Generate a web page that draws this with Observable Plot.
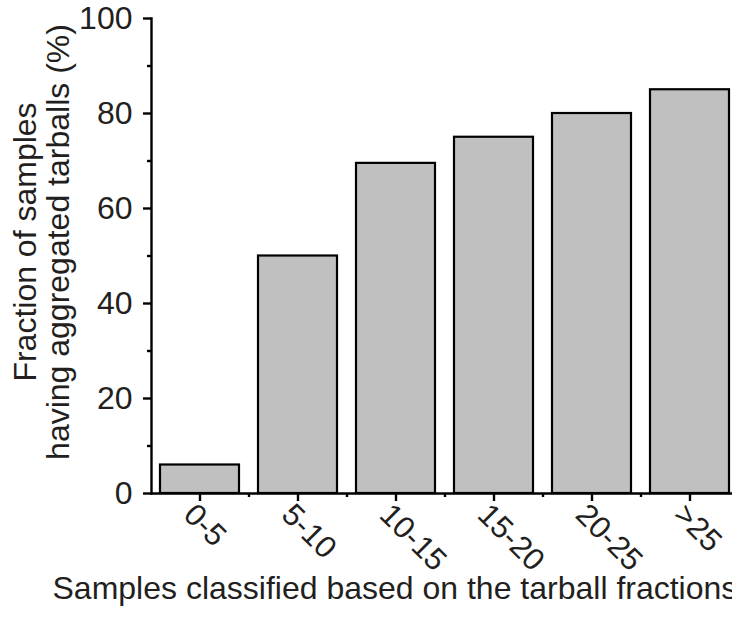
<!DOCTYPE html>
<html><head>
<meta charset="utf-8">
<script src="https://cdn.jsdelivr.net/npm/d3@7"></script>
<script src="https://cdn.jsdelivr.net/npm/@observablehq/plot@0.6"></script>
<style>html,body{margin:0;padding:0;background:#fff;overflow:hidden}</style>
</head><body><div id="chart"></div>
<script>
const categories = ["0-5", "5-10", "10-15", "15-20", "20-25", ">25"];
const values = [6, 50, 69.5, 75, 80, 85];
const yTicks = [0, 20, 40, 60, 80, 100];
const yMinorTicks = [10, 30, 50, 70, 90];
const yLabel = "Fraction of samples\nhaving aggregated tarballs (%)";
const xLabel = "Samples classified based on the tarball fractions";

const data = categories.map((c, i) => ({cat: c, value: values[i]}));
const x0 = 151, x1 = 739;
const step = (x1 - x0) / categories.length;
const ink = "#231f20";

const plot = Plot.plot({
  width: 732, height: 621,
  marginLeft: 151, marginTop: 18, marginBottom: 128, marginRight: 0,
  style: {fontFamily: "'Liberation Sans', Arial, sans-serif", color: ink, background: "#fff", overflow: "visible"},
  x: {type: "band", domain: categories, range: [x0, x1], paddingInner: 0.19, paddingOuter: 0.095, label: null},
  y: {domain: [0, 100], label: null},
  marks: [
    Plot.barY(data, {x: "cat", y: "value", fill: "#c0c0c0", stroke: "#000", strokeWidth: 2.2}),
    Plot.ruleY([0], {stroke: "#000", strokeWidth: 2.4}),
    Plot.frame({anchor: "left", stroke: "#000", strokeWidth: 2.4}),
    Plot.axisY({ticks: yTicks, tickSize: 8, tickPadding: 11, fontSize: 32, strokeWidth: 2.4, stroke: "#000", fill: ink}),
    Plot.axisY({ticks: yMinorTicks, tickSize: 4, text: null, strokeWidth: 2.4, stroke: "#000"}),
    Plot.axisX({ticks: categories, tickSize: 8, text: null, strokeWidth: 2.4, stroke: "#000"}),
    Plot.axisX({ticks: categories, tickSize: 0, tickPadding: 16, tickRotate: 45, dx: -11, fontSize: 31, fill: ink}),
    Plot.axisX({ticks: categories.slice(1), tickSize: 4, text: null, dx: -step / 2, strokeWidth: 2.4, stroke: "#000"}),
    Plot.text([yLabel], {frameAnchor: "left", textAnchor: "middle", rotate: -90, dx: -110, dy: -14, fontSize: 32, lineHeight: 1.03, fill: ink}),
    Plot.text([xLabel], {frameAnchor: "bottom-left", textAnchor: "start", dx: -99, dy: 105, fontSize: 32, fill: ink})
  ]
});
document.getElementById("chart").appendChild(plot);
</script>
</body></html>
